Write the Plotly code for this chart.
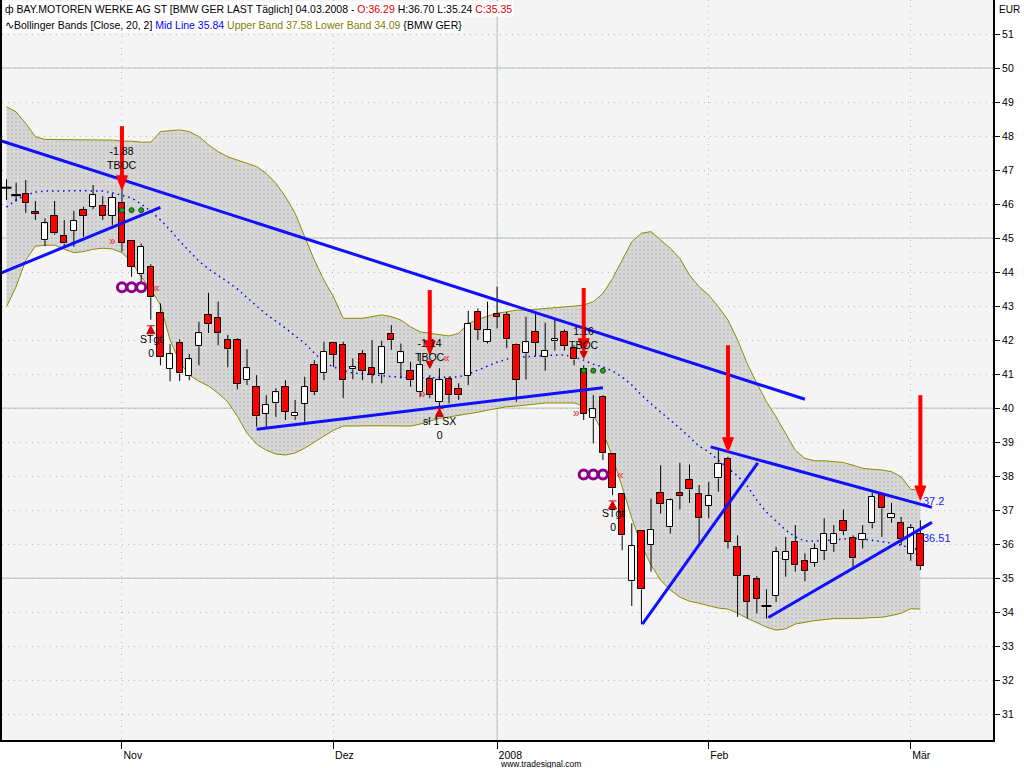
import numpy as np
import pandas as pd
import plotly.graph_objects as go

# ---------------- data ----------------
holidays = ["2007-12-24", "2007-12-25", "2007-12-26", "2007-12-31", "2008-01-01"]
dates = [d for d in pd.bdate_range("2007-10-16", "2008-03-04") if d.strftime("%Y-%m-%d") not in holidays]

open_ = [46.48, 46.26, 46.31, 45.76, 44.94, 45.65, 45.06, 45.21, 45.82, 45.92, 45.94, 45.65,
         46.02, 44.91, 43.93, 44.16, 42.79, 41.15, 41.92, 40.94, 41.82, 42.74, 42.64, 42.00,
         42.00, 40.82, 40.61, 39.84, 40.14, 40.63, 39.76, 40.12, 41.26, 41.02, 41.90, 41.85,
         41.14, 41.59, 41.17, 40.99, 42.18, 41.33, 41.09, 40.48, 40.85, 40.17, 40.85, 40.56,
         40.95, 42.83, 41.95, 42.76, 42.74, 41.85, 41.61, 42.24, 41.49, 41.96, 42.24, 41.76,
         41.14, 39.70, 40.33, 38.64, 37.46, 34.91, 36.38, 35.97, 37.51, 36.49, 37.51, 37.88,
         37.46, 37.12, 37.93, 38.50, 35.92, 35.06, 34.96, 34.18, 34.47, 35.53, 36.07, 35.51,
         35.45, 35.80, 36.00, 36.68, 36.17, 36.12, 36.61, 37.47, 36.76, 36.63, 35.72, 36.29]
high = [46.73, 46.63, 46.71, 46.09, 45.58, 46.09, 45.53, 45.80, 45.92, 46.56, 46.24, 46.31,
        46.41, 44.93, 44.84, 44.23, 43.08, 41.88, 42.02, 41.59, 42.54, 43.39, 43.13, 42.15,
        42.05, 41.73, 40.97, 40.38, 40.58, 40.82, 40.24, 40.92, 41.41, 41.95, 41.95, 41.95,
        41.46, 41.71, 42.00, 41.98, 42.44, 41.90, 41.36, 41.61, 40.97, 41.17, 40.92, 40.73,
        42.86, 42.93, 43.13, 43.57, 42.83, 41.90, 42.69, 42.78, 42.51, 42.59, 42.31, 41.85,
        41.26, 40.38, 40.38, 38.66, 37.48, 36.61, 36.40, 37.34, 38.32, 37.34, 38.39, 38.34,
        37.74, 37.83, 38.76, 38.57, 36.26, 35.08, 35.06, 34.67, 35.92, 36.21, 36.56, 35.73,
        36.02, 36.76, 36.56, 37.02, 36.26, 36.56, 37.51, 37.51, 37.21, 36.80, 36.59, 36.70]
low = [46.12, 46.07, 45.74, 45.53, 44.76, 45.10, 44.74, 44.74, 45.04, 45.85, 45.53, 45.38,
       44.60, 43.86, 43.67, 42.60, 41.26, 40.79, 40.80, 40.82, 41.26, 42.21, 41.85, 41.20,
       40.55, 40.68, 39.45, 39.40, 39.74, 39.65, 39.65, 39.60, 40.38, 40.82, 41.21, 40.29,
       40.85, 40.82, 40.73, 40.73, 41.71, 40.87, 40.63, 40.33, 40.30, 39.94, 40.14, 40.24,
       40.68, 42.00, 41.90, 42.34, 41.76, 40.19, 40.84, 41.53, 41.10, 41.69, 41.69, 41.26,
       39.65, 38.96, 38.47, 37.44, 35.82, 34.18, 33.64, 35.19, 36.90, 36.31, 37.02, 37.21,
       36.04, 36.76, 37.54, 35.87, 33.86, 33.81, 33.96, 33.81, 34.30, 35.04, 35.19, 34.91,
       35.33, 35.53, 35.77, 36.26, 35.33, 35.87, 36.46, 36.21, 36.63, 35.97, 35.51, 35.24]
close = [46.48, 46.26, 46.04, 45.70, 45.43, 45.14, 44.84, 45.50, 45.66, 46.26, 45.65, 46.19,
         44.86, 44.16, 44.74, 43.26, 41.49, 41.58, 41.02, 41.43, 42.20, 42.47, 42.20, 41.73,
         40.71, 41.17, 39.76, 40.09, 40.46, 39.89, 39.87, 40.63, 40.48, 41.66, 41.56, 40.82,
         41.21, 41.10, 40.97, 41.79, 42.00, 41.64, 40.82, 41.26, 40.38, 40.82, 40.38, 40.38,
         42.47, 42.31, 42.29, 42.69, 42.02, 40.84, 41.93, 41.92, 41.69, 42.02, 41.82, 41.43,
         39.84, 39.96, 38.67, 37.64, 36.26, 35.94, 34.67, 36.41, 37.17, 37.29, 37.41, 37.61,
         36.76, 37.41, 38.37, 36.07, 35.06, 34.30, 34.40, 34.18, 35.77, 35.77, 35.38, 35.21,
         35.87, 36.31, 36.29, 36.39, 35.58, 36.31, 37.39, 37.05, 36.90, 36.14, 36.46, 35.35]

upper_band = [48.86, 48.71, 48.37, 47.98, 47.90, 47.90, 47.90, 47.90, 47.90, 47.90, 47.90, 47.88,
              47.85, 47.85, 47.82, 47.82, 48.13, 48.16, 48.18, 48.13, 47.98, 47.74, 47.54, 47.39,
              47.29, 47.20, 47.10, 46.90, 46.61, 46.21, 45.73, 45.04, 44.35, 43.76, 43.27, 42.64,
              42.64, 42.64, 42.69, 42.74, 42.69, 42.59, 42.39, 42.24, 42.20, 42.15, 42.12, 42.20,
              42.49, 42.61, 42.69, 42.79, 42.83, 42.88, 42.88, 42.90, 42.93, 42.96, 42.98, 43.00,
              43.03, 43.13, 43.37, 43.81, 44.35, 44.89, 45.14, 45.19, 44.94, 44.70, 44.40, 43.91,
              43.57, 43.32, 42.98, 42.59, 42.00, 41.31, 40.73, 40.19, 39.74, 39.26, 38.76, 38.52,
              38.45, 38.45, 38.42, 38.40, 38.32, 38.23, 38.20, 38.18, 38.13, 37.98, 37.61, 37.58]
mid_line = [45.91, 46.12, 46.26, 46.35, 46.38, 46.39, 46.39, 46.39, 46.39, 46.39, 46.38, 46.33,
            46.26, 46.18, 46.00, 45.79, 45.53, 45.24, 44.91, 44.62, 44.32, 44.09, 43.91, 43.71,
            43.50, 43.24, 43.00, 42.76, 42.56, 42.35, 42.12, 41.91, 41.62, 41.35, 41.21, 41.10,
            41.03, 41.00, 40.97, 40.94, 40.93, 40.91, 40.90, 40.89, 40.89, 40.90, 40.91, 40.92,
            41.00, 41.12, 41.24, 41.35, 41.44, 41.49, 41.51, 41.53, 41.54, 41.56, 41.56, 41.50,
            41.41, 41.29, 41.21, 41.09, 40.91, 40.68, 40.38, 40.12, 39.88, 39.65, 39.41, 39.15,
            38.88, 38.71, 38.47, 38.24, 38.00, 37.71, 37.29, 36.94, 36.68, 36.41, 36.21, 36.09,
            36.09, 36.10, 36.12, 36.15, 36.17, 36.15, 36.12, 36.07, 36.03, 35.97, 35.88, 35.84]
lower_band = [42.98, 43.57, 44.35, 44.76, 44.79, 44.79, 44.67, 44.57, 44.60, 44.67, 44.70, 44.68,
              44.57, 44.30, 43.86, 43.49, 43.03, 42.00, 41.35, 40.97, 40.79, 40.65, 40.44, 40.18,
              39.76, 39.26, 38.94, 38.76, 38.65, 38.62, 38.68, 38.82, 39.00, 39.18, 39.35, 39.47,
              39.48, 39.48, 39.48, 39.48, 39.47, 39.47, 39.47, 39.53, 39.62, 39.70, 39.74, 39.78,
              39.82, 39.88, 39.94, 40.00, 40.04, 40.06, 40.09, 40.12, 40.15, 40.15, 40.15, 40.15,
              40.06, 39.79, 39.29, 38.56, 37.68, 36.76, 35.97, 35.38, 34.94, 34.65, 34.44, 34.32,
              34.26, 34.18, 34.12, 34.09, 33.97, 33.82, 33.68, 33.56, 33.47, 33.51, 33.65, 33.71,
              33.75, 33.78, 33.81, 33.81, 33.81, 33.82, 33.84, 33.85, 33.90, 33.97, 34.10, 34.09]

# month ticks
tick_dates = ["2007-11-01", "2007-12-03", "2008-01-02", "2008-02-01", "2008-03-03"]
tick_labels = ["Nov", "Dez", "2008", "Feb", "Mär"]

# hand-drawn trendlines: (bar index start, price start, bar index end, price end), bar index relative to 1 Nov 2007
trendlines = [(-13.0, 47.90, 71.0, 40.26),
              (-13.0, 43.92, 4.0, 45.90),
              (14.0, 39.38, 50.0, 40.60),
              (61.2, 38.86, 84.2, 37.08),
              (54.1, 33.65, 66.1, 38.39),
              (67.2, 33.84, 84.2, 36.64)]
trend_labels = [(83, 37.28, "37.2"), (83, 36.18, "36.51")]

# red signal arrows: (bar index, tip price, tail price)
big_arrows = [(0, 46.41, 48.29), (32, 41.56, 43.47), (48, 41.62, 43.53), (63, 38.71, 41.85), (83, 37.29, 40.38)]

# indicator markers
green_dot_bars = [0, 1, 2, 48, 49, 50]
green_dot_prices = [45.82, 45.82, 45.82, 41.10, 41.10, 41.10]
purple_bars = [0, 1, 2, 48, 49, 50]
purple_prices = [43.55, 43.55, 43.55, 38.05, 38.05, 38.05]
up_arrow_bars = [3, 51, 33]
up_arrow_prices = [42.42, 37.27, 39.99]
down_arrow_bars = [32, 48]
down_arrow_prices = [41.17, 41.46]
chevrons = [(0, 44.91, "»", -9), (3, 43.52, "«", 6), (32, 40.40, "»", -7),
            (33, 41.48, "«", 7), (48, 39.86, "»", -7), (51, 38.03, "«", 8)]
signal_texts = [(0, 47.36, "-1.88<br>TBOC"), (32, 41.72, "-1.14<br>TBOC"), (48, 42.06, "1.16<br>TBOC"),
                (3, 41.83, "STgt<br>0"), (51, 36.70, "STgt<br>0"), (33, 39.40, "sl 1 SX<br>0")]

# ---------------- build ----------------
date_str = [d.strftime("%Y-%m-%d") for d in dates]
origin = date_str.index("2007-11-01")
x = [i - origin for i in range(len(dates))]
tick_x = [date_str.index(t) - origin for t in tick_dates]

NARROW = "Liberation Sans Narrow, Liberation Sans, Arial"
SANS = "Liberation Sans, Arial"
X_RANGE = [-12.47, 90.55]
Y_RANGE = [30.24, 52.0]

fig = go.Figure()

# ---- base layer: Bollinger bands ----
fig.add_trace(go.Scatter(x=x, y=upper_band, mode="lines", line=dict(color="#8c8c00", width=1), hoverinfo="skip"))
fig.add_trace(go.Scatter(x=x, y=lower_band, mode="lines", line=dict(color="#8c8c00", width=1),
                         fill="tonexty", fillcolor="#d9d9d9",
                         fillpattern=dict(shape=".", bgcolor="#d8d8d8", fgcolor="#b0b0b0", size=4, solidity=0.25),
                         hoverinfo="skip"))
fig.add_trace(go.Scatter(x=x, y=mid_line, mode="lines", line=dict(color="#0000ff", width=1.5, dash="1.5px,4px"),
                         hoverinfo="skip"))

# ---- overlay layer (x2/y2): candles, trendlines, signals ----
OV = dict(xaxis="x2", yaxis="y2", hoverinfo="skip")

# wicks (only the parts outside the body)
wx, wy = [], []
for xi, o, h, l, c in zip(x, open_, high, low, close):
    top, bot = max(o, c), min(o, c)
    wx += [xi, xi, None, xi, xi, None]
    wy += [top, h, None, l, bot, None]
fig.add_trace(go.Scatter(x=wx, y=wy, mode="lines", line=dict(color="black", width=1), **OV))

# bodies
body_col = ["#ff0000" if c < o else "#ffffff" for o, c in zip(open_, close)]
fig.add_trace(go.Bar(x=x, y=[c - o for o, c in zip(open_, close)], base=open_, width=0.66,
                     marker=dict(color=body_col, line=dict(color="black", width=1)), **OV))
doji_x = [xi for xi, o, c in zip(x, open_, close) if abs(c - o) < 0.01]
doji_y = [o for o, c in zip(open_, close) if abs(c - o) < 0.01]
fig.add_trace(go.Scatter(x=doji_x, y=doji_y, mode="markers",
                         marker=dict(symbol="line-ew", size=7, line=dict(color="black", width=2)), **OV))

# trendlines
tx, ty = [], []
for x0, y0, x1, y1 in trendlines:
    tx += [x0, x1, None]
    ty += [y0, y1, None]
fig.add_trace(go.Scatter(x=tx, y=ty, mode="lines", line=dict(color="#1010ff", width=3), **OV))

# markers
fig.add_trace(go.Scatter(x=green_dot_bars, y=green_dot_prices, mode="markers",
                         marker=dict(symbol="circle", size=5, color="#22a022", line=dict(color="#1a4a1a", width=1)),
                         **OV))
fig.add_trace(go.Scatter(x=purple_bars, y=purple_prices, mode="markers",
                         marker=dict(symbol="circle-open", size=9, color="#8b008b", line=dict(width=3)), **OV))
fig.add_trace(go.Scatter(x=up_arrow_bars, y=up_arrow_prices, mode="markers",
                         marker=dict(symbol="arrow-bar-up", size=8, color="#d00000", line=dict(color="#d00000", width=1)),
                         **OV))
fig.add_trace(go.Scatter(x=down_arrow_bars, y=down_arrow_prices, mode="markers",
                         marker=dict(symbol="arrow-down", size=7, color="#d00000", line=dict(color="#d00000", width=1)),
                         **OV))

# big red arrows (shaft + head)
HEAD_HW = 0.57   # half width in bars
HEAD_LEN = 0.42  # length in price units
sx, sy, hx, hy = [], [], [], []
for b, tip, tail in big_arrows:
    sx += [b, b, None]
    sy += [tail, tip + HEAD_LEN, None]
    hx += [b - HEAD_HW, b + HEAD_HW, b, b - HEAD_HW, None]
    hy += [tip + HEAD_LEN, tip + HEAD_LEN, tip, tip + HEAD_LEN, None]
fig.add_trace(go.Scatter(x=sx, y=sy, mode="lines", line=dict(color="#ff0000", width=4), **OV))
fig.add_trace(go.Scatter(x=hx, y=hy, mode="lines", fill="toself", fillcolor="#ff0000",
                         line=dict(color="#ff0000", width=1), **OV))

annotations = []
for b, p, t in signal_texts:
    annotations.append(dict(x=b, y=p, xref="x2", yref="y2", text=t, showarrow=False,
                            font=dict(family=SANS, size=10.5, color="black"), xanchor="center", yanchor="middle"))
for b, p, t, sh in chevrons:
    annotations.append(dict(x=b, y=p, xref="x2", yref="y2", text=t, showarrow=False,
                            font=dict(family=SANS, size=12, color="#e83030"),
                            xanchor="center", yanchor="middle", xshift=sh))
for b, p, t in trend_labels:
    annotations.append(dict(x=b, y=p, xref="x2", yref="y2", text=t, showarrow=False,
                            font=dict(family=SANS, size=11, color="#2020ff"),
                            xanchor="left", yanchor="middle", xshift=1))

# header
hdr1 = ("ф BAY.MOTOREN WERKE AG ST [BMW GER LAST Täglich] 04.03.2008 - "
        "<span style='color:#e00000'>O:36.29</span> H:36.70 L:35.24 "
        "<span style='color:#e00000'>C:35.35</span>")
hdr2 = ("∿Bollinger Bands [Close, 20, 2] <span style='color:#0000ff'>Mid Line 35.84</span> "
        "<span style='color:#808000'>Upper Band 37.58 Lower Band 34.09</span> {BMW GER}")
annotations.append(dict(xref="paper", yref="paper", x=0, y=1, xanchor="left", yanchor="top", text=hdr1,
                        showarrow=False, font=dict(family=SANS, size=10.5, color="black"),
                        bgcolor="white", borderpad=1, xshift=1, yshift=-1))
annotations.append(dict(xref="paper", yref="paper", x=0, y=1, xanchor="left", yanchor="top", text=hdr2,
                        showarrow=False, font=dict(family=SANS, size=10.5, color="black"),
                        bgcolor="white", borderpad=1, xshift=1, yshift=-17))
annotations.append(dict(xref="paper", yref="paper", x=1, y=1, xanchor="left", yanchor="top", text="EUR",
                        showarrow=False, font=dict(family=NARROW, size=10, color="black"), xshift=4, yshift=-2))
annotations.append(dict(xref="paper", yref="paper", x=0.543, y=0, xanchor="center", yanchor="top",
                        text="www.tradesignal.com", showarrow=False,
                        font=dict(family=NARROW, size=8.5, color="black"), yshift=-17))

# gridline shapes (solid every 5 EUR and at year start)
shapes = []
for v in range(35, 51, 5):
    shapes.append(dict(type="line", xref="paper", x0=0, x1=1, yref="y", y0=v, y1=v,
                       line=dict(color="#b4c0b4", width=1), layer="below"))
year_x = tick_x[tick_labels.index("2008")]
shapes.append(dict(type="line", xref="x", x0=year_x, x1=year_x, yref="paper", y0=0, y1=1,
                   line=dict(color="#b4c0b4", width=1), layer="below"))

fig.update_layout(
    width=1024, height=768,
    margin=dict(l=2, r=31, t=0, b=28),
    paper_bgcolor="white", plot_bgcolor="#f4f4f4",
    showlegend=False,
    annotations=annotations, shapes=shapes,
    bargap=0,
    xaxis=dict(range=X_RANGE, tickvals=tick_x, ticktext=tick_labels,
               showgrid=True, gridcolor="#b8b8b8", griddash="1px,5px", gridwidth=1,
               ticks="outside", ticklen=7, tickcolor="black", tickwidth=1,
               ticklabelposition="outside right", ticklabelstandoff=4,
               tickfont=dict(family=NARROW, size=10.5, color="black"),
               showline=True, linecolor="black", linewidth=2, zeroline=False, fixedrange=True),
    yaxis=dict(range=Y_RANGE, side="right", tickvals=list(range(31, 52)),
               showgrid=True, gridcolor="#b8b8b8", griddash="1px,5px", gridwidth=1,
               ticks="outside", ticklen=5, tickcolor="black", tickwidth=1,
               tickfont=dict(family=NARROW, size=10.5, color="black"),
               showline=True, linecolor="black", linewidth=2, mirror=True, zeroline=False, fixedrange=True),
    xaxis2=dict(range=X_RANGE, overlaying="x", matches="x", visible=False, fixedrange=True),
    yaxis2=dict(range=Y_RANGE, overlaying="y", matches="y", visible=False, fixedrange=True),
)

fig.write_html("out.html", config={"displayModeBar": False},
               post_script="document.body.style.margin='0px';")
